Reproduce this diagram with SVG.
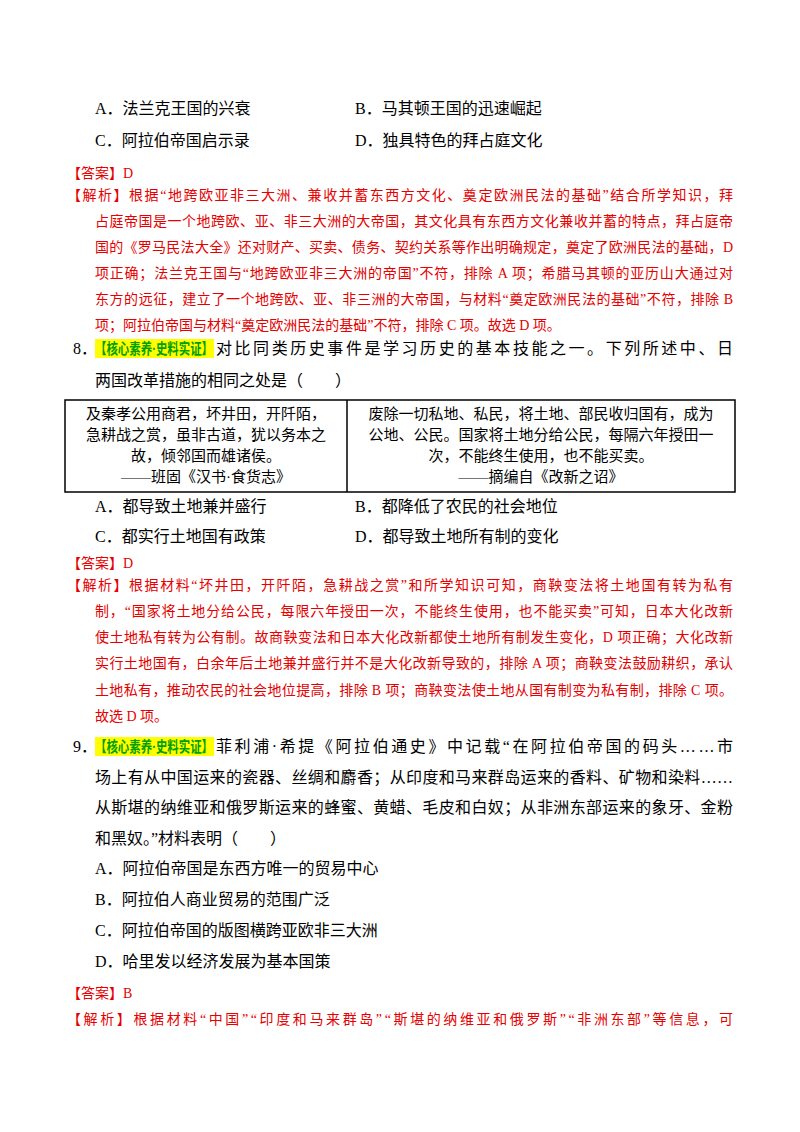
<svg xmlns="http://www.w3.org/2000/svg" width="800" height="1132" viewBox="0 0 800 1132">
<style>
text{font-family:"Liberation Serif","Noto Sans CJK SC",serif;}
.b{font-size:16px;fill:#000}
.r{font-size:14px;fill:#e60000}
.t{font-size:15px;fill:#000}
.g{font-size:15px;fill:#00a000;font-weight:bold}
</style>
<rect width="800" height="1132" fill="#fff"/>
<text class="b" x="95" y="114">A．法兰克王国的兴衰</text>
<text class="b" x="355" y="114">B．马其顿王国的迅速崛起</text>
<text class="b" x="95" y="146">C．阿拉伯帝国启示录</text>
<text class="b" x="355" y="146">D．独具特色的拜占庭文化</text>
<text class="r" x="67" y="178">【答案】D</text>
<text class="r" x="67" y="200" textLength="666">【解析】根据“地跨欧亚非三大洲、兼收并蓄东西方文化、奠定欧洲民法的基础”结合所学知识，拜</text>
<text class="r" x="95" y="226" textLength="638">占庭帝国是一个地跨欧、亚、非三大洲的大帝国，其文化具有东西方文化兼收并蓄的特点，拜占庭帝</text>
<text class="r" x="95" y="252" textLength="638">国的《罗马民法大全》还对财产、买卖、债务、契约关系等作出明确规定，奠定了欧洲民法的基础，D</text>
<text class="r" x="95" y="278" textLength="638">项正确；法兰克王国与“地跨欧亚非三大洲的帝国”不符，排除 A 项；希腊马其顿的亚历山大通过对</text>
<text class="r" x="95" y="304" textLength="638">东方的远征，建立了一个地跨欧、亚、非三洲的大帝国，与材料“奠定欧洲民法的基础”不符，排除 B</text>
<text class="r" x="95" y="330">项；阿拉伯帝国与材料“奠定欧洲民法的基础”不符，排除 C 项。故选 D 项。</text>
<text class="b" x="73" y="354">8．</text>
<rect x="95" y="339" width="119" height="19" fill="#ffff00"/>
<text class="g" x="95" y="354" textLength="118" lengthAdjust="spacingAndGlyphs">【核心素养·史料实证】</text>
<text class="b" x="216" y="354" textLength="517">对比同类历史事件是学习历史的基本技能之一。下列所述中、日</text>
<text class="b" x="95" y="386">两国改革措施的相同之处是（　　）</text>
<g fill="none" stroke="#000" stroke-width="1.5">
<rect x="65" y="400" width="670" height="92"/>
<line x1="347" y1="400" x2="347" y2="492"/>
</g>
<g text-anchor="middle">
<text class="t" x="206" y="419">及秦孝公用商君，坏井田，开阡陌，</text>
<text class="t" x="206" y="440">急耕战之赏，虽非古道，犹以务本之</text>
<text class="t" x="206" y="461">故，倾邻国而雄诸侯。</text>
<text class="t" x="206" y="482">——班固《汉书·食货志》</text>
<text class="t" x="541" y="419">废除一切私地、私民，将土地、部民收归国有，成为</text>
<text class="t" x="541" y="440">公地、公民。国家将土地分给公民，每隔六年授田一</text>
<text class="t" x="541" y="461">次，不能终生使用，也不能买卖。</text>
<text class="t" x="541" y="482">——摘编自《改新之诏》</text>
</g>
<text class="b" x="95" y="512">A．都导致土地兼并盛行</text>
<text class="b" x="355" y="512">B．都降低了农民的社会地位</text>
<text class="b" x="95" y="542">C．都实行土地国有政策</text>
<text class="b" x="355" y="542">D．都导致土地所有制的变化</text>
<text class="r" x="67" y="568">【答案】D</text>
<text class="r" x="67" y="590" textLength="666">【解析】根据材料“坏井田，开阡陌，急耕战之赏”和所学知识可知，商鞅变法将土地国有转为私有</text>
<text class="r" x="95" y="616" textLength="638">制，“国家将土地分给公民，每限六年授田一次，不能终生使用，也不能买卖”可知，日本大化改新</text>
<text class="r" x="95" y="642" textLength="638">使土地私有转为公有制。故商鞅变法和日本大化改新都使土地所有制发生变化，D 项正确；大化改新</text>
<text class="r" x="95" y="668" textLength="638">实行土地国有，白余年后土地兼并盛行并不是大化改新导致的，排除 A 项；商鞅变法鼓励耕织，承认</text>
<text class="r" x="95" y="695" textLength="638">土地私有，推动农民的社会地位提高，排除 B 项；商鞅变法使土地从国有制变为私有制，排除 C 项。</text>
<text class="r" x="95" y="721">故选 D 项。</text>
<text class="b" x="73" y="752">9．</text>
<rect x="95" y="737" width="119" height="19" fill="#ffff00"/>
<text class="g" x="95" y="752" textLength="118" lengthAdjust="spacingAndGlyphs">【核心素养·史料实证】</text>
<text class="b" x="216" y="752" textLength="517">菲利浦·希提《阿拉伯通史》中记载“在阿拉伯帝国的码头……市</text>
<text class="b" x="95" y="783" textLength="638">场上有从中国运来的瓷器、丝绸和麝香；从印度和马来群岛运来的香料、矿物和染料……</text>
<text class="b" x="95" y="813" textLength="638">从斯堪的纳维亚和俄罗斯运来的蜂蜜、黄蜡、毛皮和白奴；从非洲东部运来的象牙、金粉</text>
<text class="b" x="95" y="844">和黑奴。”材料表明（　　）</text>
<text class="b" x="95" y="874">A．阿拉伯帝国是东西方唯一的贸易中心</text>
<text class="b" x="95" y="905">B．阿拉伯人商业贸易的范围广泛</text>
<text class="b" x="95" y="936">C．阿拉伯帝国的版图横跨亚欧非三大洲</text>
<text class="b" x="95" y="967">D．哈里发以经济发展为基本国策</text>
<text class="r" x="67" y="998">【答案】B</text>
<text class="r" x="67" y="1024" textLength="666">【解析】根据材料“中国”“印度和马来群岛”“斯堪的纳维亚和俄罗斯”“非洲东部”等信息，可</text>
</svg>
